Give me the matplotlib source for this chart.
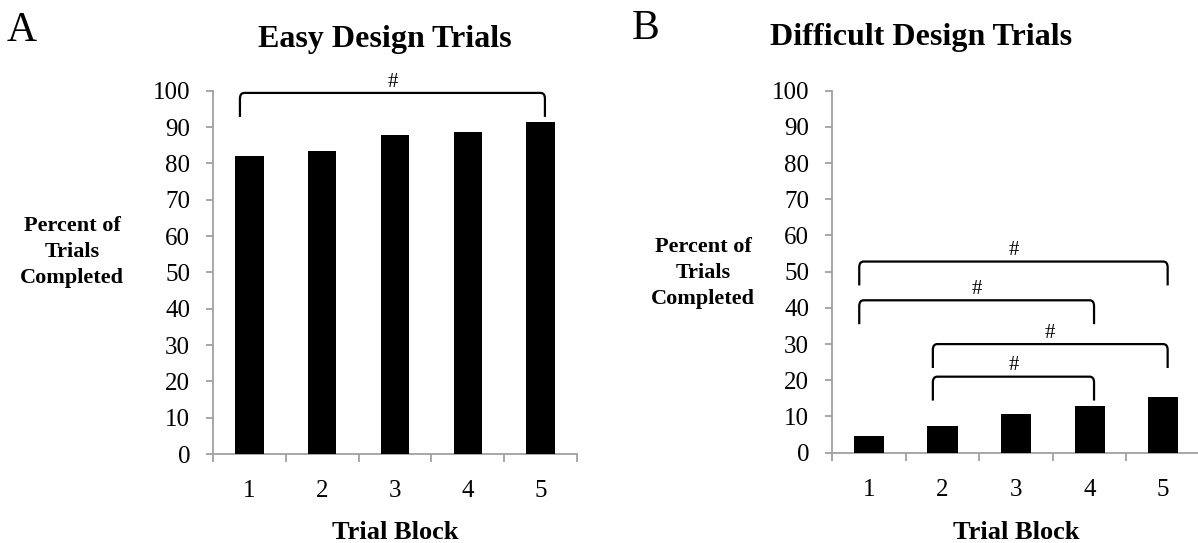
import numpy as np
import matplotlib as mpl
mpl.use('Agg')
import matplotlib.pyplot as plt
from matplotlib.path import Path
from matplotlib.patches import PathPatch

mpl.rcParams['font.family'] = ['Liberation Serif', 'DejaVu Serif']

# data ------------------------------------------------------------------------
blocks = ['1', '2', '3', '4', '5']
easy_pct = [81.9, 83.3, 87.9, 88.6, 91.3]
hard_pct = [4.6, 7.5, 10.6, 12.8, 15.4]

# significance brackets: (from block, to block), height of top line
easy_pairs = [(1, 5)]
easy_tops = [99.4]
hard_pairs = [(1, 5), (1, 4), (2, 5), (2, 4)]
hard_tops = [52.8, 42.1, 30.0, 21.0]

GRAY = '#a0a0a0'

# bracket with rounded corners -------------------------------------------------
def bracket(ax, x0, x1, top, drop=6.6, rx=0.06, ry=1.6):
    verts = [(x0, top - drop), (x0, top - ry), (x0, top), (x0 + rx, top),
             (x1 - rx, top), (x1, top), (x1, top - ry), (x1, top - drop)]
    codes = [Path.MOVETO, Path.LINETO, Path.CURVE3, Path.CURVE3,
             Path.LINETO, Path.CURVE3, Path.CURVE3, Path.LINETO]
    ax.add_patch(PathPatch(Path(verts, codes), fill=False, lw=1.6,
                           ec='black', clip_on=False, capstyle='butt'))
    ax.annotate('#', xy=((x0 + x1) / 2, top), xytext=(0, 4.5),
                textcoords='offset points', ha='center', va='baseline',
                fontsize=15, annotation_clip=False)

# one panel --------------------------------------------------------------------
def plot_panel(fig, rect, vals, pairs, tops, width):
    ax = fig.add_axes(rect)
    x = np.arange(1, len(vals) + 1)
    ax.bar(x, vals, width=width, color='black', zorder=3)
    ax.set_xlim(0.5, len(vals) + 0.5)
    ax.set_ylim(0, 100)
    ax.set_yticks(np.arange(0, 101, 10))
    ax.set_xticks(np.arange(0.5, len(vals) + 1, 1.0))
    ax.set_xticklabels([])
    ax.set_xticks(x, minor=True)
    ax.set_xticklabels(blocks, minor=True)
    for s in ('top', 'right'):
        ax.spines[s].set_visible(False)
    for s in ('left', 'bottom'):
        ax.spines[s].set_color(GRAY)
        ax.spines[s].set_linewidth(1.3)
    ax.tick_params(axis='y', direction='out', length=5, width=1.3,
                   color=GRAY, labelsize=18, pad=11.5)
    ax.tick_params(axis='x', which='major', direction='out', length=6,
                   width=1.3, color=GRAY)
    ax.tick_params(axis='x', which='minor', length=0, labelsize=18, pad=19)
    for (a, b), t in zip(pairs, tops):
        bracket(ax, a - 0.13, b + 0.06, t)
    return ax

if __name__ == '__main__':
    fig = plt.figure(figsize=(11.98, 5.43), dpi=100)

    plot_panel(fig, [0.1778, 0.1639, 0.3038, 0.669], easy_pct,
               easy_pairs, easy_tops, 0.39)
    plot_panel(fig, [0.6945, 0.1663, 0.3072, 0.6667], hard_pct,
               hard_pairs, hard_tops, 0.41)

    fig.text(0.0058, 0.925, 'A', fontsize=30, ha='left', va='baseline')
    fig.text(0.5275, 0.928, 'B', fontsize=30, ha='left', va='baseline')
    fig.text(0.3214, 0.914, 'Easy Design Trials', fontsize=23,
             fontweight='bold', ha='center', va='baseline')
    fig.text(0.7688, 0.918, 'Difficult Design Trials', fontsize=23,
             fontweight='bold', ha='center', va='baseline')

    ylab = 'Percent of\nTrials\nCompleted'
    fig.text(0.0604, 0.536, ylab, fontsize=16, fontweight='bold',
             ha='center', va='center', linespacing=1.4)
    fig.text(0.587, 0.497, ylab, fontsize=16, fontweight='bold',
             ha='center', va='center', linespacing=1.4)

    fig.text(0.3297, 0.0074, 'Trial Block', fontsize=19, fontweight='bold',
             ha='center', va='baseline')
    fig.text(0.848, 0.0074, 'Trial Block', fontsize=19, fontweight='bold',
             ha='center', va='baseline')

    fig.savefig('out.png', dpi=100)
